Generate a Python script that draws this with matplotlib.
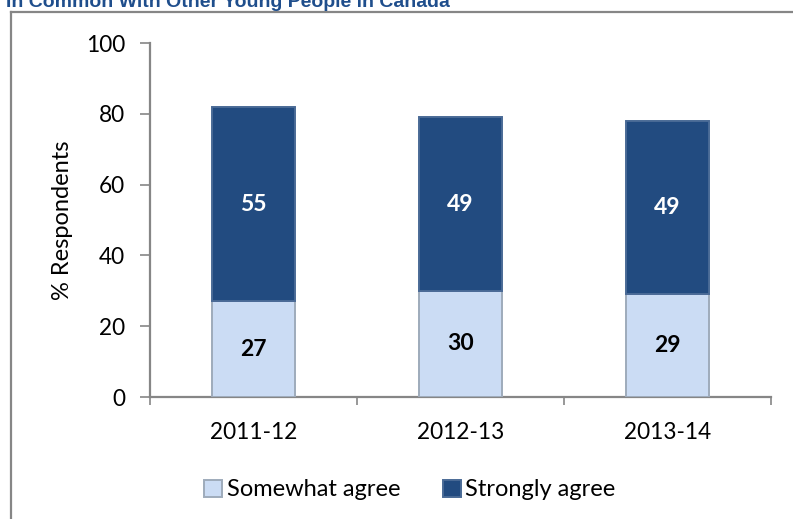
import matplotlib

matplotlib.use("Agg")
import matplotlib.pyplot as plt
from matplotlib.lines import Line2D
import numpy as np

# Survey shares by fiscal year, stacked from the bottom up.
years = ["2011-12", "2012-13", "2013-14"]
somewhat_agree = [27, 30, 29]
strongly_agree = [55, 49, 49]

title = "In Common With Other Young People in Canada"
ylabel = "% Respondents"
legend_labels = ["Somewhat agree", "Strongly agree"]
yticks = [0, 20, 40, 60, 80, 100]

LIGHT = "#cbdcf4"
DARK = "#224b80"
AXIS_GREY = "#868686"
TITLE_BLUE = "#1f4e8c"

plt.rcParams["font.family"] = ["Lato", "DejaVu Sans"]

W, H = 793, 519
fig = plt.figure(figsize=(W / 100, H / 100), dpi=100)

# chart frame (top and left edges only show on the canvas)
fig.add_artist(Line2D([11 / W, 1.0], [1 - 12 / H, 1 - 12 / H],
                      color=AXIS_GREY, linewidth=1.6, transform=fig.transFigure))
fig.add_artist(Line2D([11 / W, 11 / W], [0.0, 1 - 12 / H],
                      color=AXIS_GREY, linewidth=1.6, transform=fig.transFigure))

fig.text(6 / W, 1 - 7 / H, title, ha="left", va="baseline", fontsize=14,
         fontweight="bold", color=TITLE_BLUE, family="Liberation Sans")

ax = fig.add_axes([150 / W, 1 - 397 / H, (771 - 150) / W, (397 - 43) / H])

x = np.arange(len(years))
width = 0.4
b1 = ax.bar(x, somewhat_agree, width, color=LIGHT, edgecolor="#9eabbb",
            linewidth=1.4, label=legend_labels[0], zorder=3)
b2 = ax.bar(x, strongly_agree, width, bottom=somewhat_agree, color=DARK,
            edgecolor="#4a6a96", linewidth=1.4, label=legend_labels[1], zorder=3)

for xi, lo, hi in zip(x, somewhat_agree, strongly_agree):
    ax.text(xi, lo / 2, f"{lo}", ha="center", va="center", fontsize=16.5,
            fontweight="bold", color="black", zorder=4)
    ax.text(xi, lo + hi / 2, f"{hi}", ha="center", va="center", fontsize=16.5,
            fontweight="bold", color="white", zorder=4)

ax.set_xlim(-0.5, len(years) - 0.5)
ax.set_ylim(0, 100)
ax.set_yticks(yticks)
ax.set_xticks(x)
ax.set_xticklabels(years)
ax.set_xticks(np.arange(len(years) + 1) - 0.5, minor=True)
ax.tick_params(axis="x", which="major", length=0, labelsize=16.3, pad=18)
ax.tick_params(axis="x", which="minor", length=6, width=1.2, color=AXIS_GREY)
ax.tick_params(axis="y", length=7, width=1.2, color=AXIS_GREY, labelsize=16.3, pad=11)

for side in ("top", "right"):
    ax.spines[side].set_visible(False)
for side in ("left", "bottom"):
    ax.spines[side].set_color(AXIS_GREY)
    ax.spines[side].set_linewidth(1.6)

ax.set_ylabel(ylabel, fontsize=17, labelpad=9)

ax.legend(handles=[b1, b2], loc="center",
          bbox_to_anchor=((410 - 150) / (771 - 150), -(490 - 397) / (397 - 43)),
          ncol=2, frameon=False, fontsize=17, handlelength=0.75, handleheight=0.75,
          handletextpad=0.2, columnspacing=1.8)

fig.savefig("out.png", dpi=100)
